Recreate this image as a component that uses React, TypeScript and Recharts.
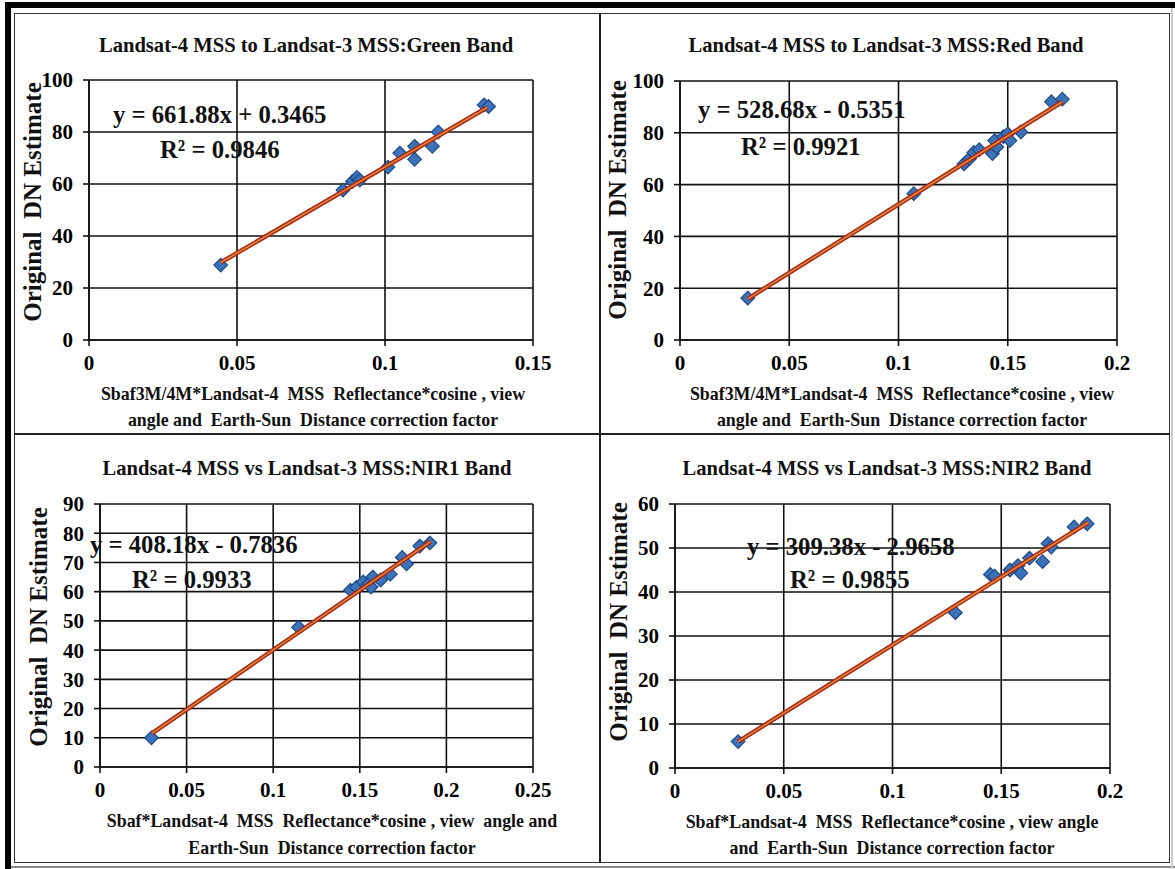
import { ScatterChart, Scatter, XAxis, YAxis, CartesianGrid } from "recharts";

// Landsat-4 MSS vs Landsat-3 MSS cross-calibration
const greenBand = [
  { x: 0.0445, y: 28.8 }, { x: 0.0858, y: 57.7 }, { x: 0.089, y: 61 }, { x: 0.0905, y: 62.5 },
  { x: 0.0915, y: 61.5 }, { x: 0.101, y: 66.5 }, { x: 0.105, y: 71.9 }, { x: 0.11, y: 74.5 },
  { x: 0.11, y: 69.5 }, { x: 0.116, y: 74.5 }, { x: 0.118, y: 80 }, { x: 0.1335, y: 90.4 },
  { x: 0.135, y: 89.8 },
];
const redBand = [
  { x: 0.031, y: 16.2 }, { x: 0.107, y: 56.5 }, { x: 0.13, y: 68 }, { x: 0.1325, y: 70 },
  { x: 0.1345, y: 72.4 }, { x: 0.137, y: 73.5 }, { x: 0.143, y: 72 }, { x: 0.144, y: 77 },
  { x: 0.145, y: 74.5 }, { x: 0.148, y: 78.5 }, { x: 0.15, y: 79.6 }, { x: 0.151, y: 77 },
  { x: 0.156, y: 80.3 }, { x: 0.17, y: 92 }, { x: 0.175, y: 93 },
];
const nir1Band = [
  { x: 0.0297, y: 10 }, { x: 0.1146, y: 47.8 }, { x: 0.1446, y: 60.5 }, { x: 0.148, y: 61.5 },
  { x: 0.152, y: 63.3 }, { x: 0.155, y: 62.5 }, { x: 0.1575, y: 65 }, { x: 0.1565, y: 61.6 },
  { x: 0.162, y: 64 }, { x: 0.1676, y: 66 }, { x: 0.1745, y: 71.7 }, { x: 0.177, y: 69.5 },
  { x: 0.1846, y: 75.6 }, { x: 0.1905, y: 76.7 },
];
const nir2Band = [
  { x: 0.029, y: 6 }, { x: 0.1289, y: 35.3 }, { x: 0.145, y: 44 }, { x: 0.147, y: 43.6 },
  { x: 0.154, y: 45 }, { x: 0.1577, y: 46 }, { x: 0.159, y: 44.3 }, { x: 0.163, y: 47.7 },
  { x: 0.169, y: 46.9 }, { x: 0.1715, y: 51 }, { x: 0.173, y: 50.2 }, { x: 0.1835, y: 54.8 },
  { x: 0.1895, y: 55.5 },
];

// linear trendline end points
const greenTrend = [{ x: 0.0445, y: 29.8 }, { x: 0.1345, y: 89.4 }];
const redTrend = [{ x: 0.031, y: 15.9 }, { x: 0.175, y: 92 }];
const nir1Trend = [{ x: 0.03, y: 11.5 }, { x: 0.191, y: 77.2 }];
const nir2Trend = [{ x: 0.029, y: 6 }, { x: 0.19, y: 55.8 }];

const xTicks150 = [0, 0.05, 0.1, 0.15];
const xTicks200 = [0, 0.05, 0.1, 0.15, 0.2];
const xTicks250 = [0, 0.05, 0.1, 0.15, 0.2, 0.25];
const yTicks100 = [0, 20, 40, 60, 80, 100];
const yTicks90 = [0, 10, 20, 30, 40, 50, 60, 70, 80, 90];
const yTicks60 = [0, 10, 20, 30, 40, 50, 60];

const titles = [
  "Landsat-4 MSS to Landsat-3 MSS:Green Band",
  "Landsat-4 MSS to Landsat-3 MSS:Red Band",
  "Landsat-4 MSS vs Landsat-3 MSS:NIR1 Band",
  "Landsat-4 MSS vs Landsat-3 MSS:NIR2 Band",
];
const equations = [
  ["y = 661.88x + 0.3465", "R² = 0.9846"],
  ["y = 528.68x - 0.5351", "R² = 0.9921"],
  ["y = 408.18x - 0.7836", "R² = 0.9933"],
  ["y = 309.38x - 2.9658", "R² = 0.9855"],
];
const xTitles = [
  ["Sbaf3M/4M*Landsat-4  MSS  Reflectance*cosine , view", "angle and  Earth-Sun  Distance correction factor"],
  ["Sbaf3M/4M*Landsat-4  MSS  Reflectance*cosine , view", "angle and  Earth-Sun  Distance correction factor"],
  ["Sbaf*Landsat-4  MSS  Reflectance*cosine , view  angle and", "Earth-Sun  Distance correction factor"],
  ["Sbaf*Landsat-4  MSS  Reflectance*cosine , view angle", "and  Earth-Sun  Distance correction factor"],
];
const yTitle = "Original  DN Estimate";

const serif = "'Liberation Serif', 'Times New Roman', serif";

const Diamond = (props: any) => {
  const { cx, cy } = props;
  const r = 6.8;
  return (
    <polygon
      points={`${cx},${cy - r} ${cx + r},${cy} ${cx},${cy + r} ${cx - r},${cy}`}
      fill="#3b73bb"
      stroke="#1d4a86"
      strokeWidth={1.2}
    />
  );
};
const NoDot = () => <g />;

type PanelProps = {
  left: number; top: number; width: number; height: number;
  plot: { l: number; r: number; t: number; b: number };
  points: { x: number; y: number }[];
  trend: { x: number; y: number }[];
  xTicks: number[]; yTicks: number[];
  title: string; titlePos: [number, number];
  eq: string[]; eqPos: [number, number, number, number];
  xTitle: string[]; xTitlePos: [number, number, number];
  yTitlePos: [number, number];
};

const Panel = (p: PanelProps) => {
  const yAxisW = 50;
  const xAxisH = 30;
  const margin = {
    top: p.plot.t,
    right: p.width - p.plot.r,
    left: p.plot.l - yAxisW,
    bottom: p.height - p.plot.b - xAxisH,
  };
  const tickStyle = { fill: "#000", fontFamily: serif, fontWeight: 700, fontSize: 21 };
  const txt: React.CSSProperties = {
    position: "absolute", fontFamily: serif, fontWeight: 700, color: "#111", whiteSpace: "pre", lineHeight: 1,
  };
  return (
    <div style={{ position: "absolute", left: p.left, top: p.top, width: p.width, height: p.height }}>
      <ScatterChart width={p.width} height={p.height} margin={margin}>
        <CartesianGrid stroke="#111" strokeWidth={1.6} fill="none" />
        <XAxis
          type="number" dataKey="x" domain={[p.xTicks[0], p.xTicks[p.xTicks.length - 1]]}
          ticks={p.xTicks} interval={0} height={xAxisH} tick={tickStyle} tickSize={6} tickMargin={9}
          axisLine={{ stroke: "#111", strokeWidth: 1.6 }} tickLine={{ stroke: "#111", strokeWidth: 1.6 }}
        />
        <YAxis
          type="number" dataKey="y" domain={[p.yTicks[0], p.yTicks[p.yTicks.length - 1]]}
          ticks={p.yTicks} interval={0} width={yAxisW} tick={tickStyle} tickSize={6} tickMargin={10}
          axisLine={{ stroke: "#111", strokeWidth: 1.6 }} tickLine={{ stroke: "#111", strokeWidth: 1.6 }}
        />
        <Scatter data={p.points} shape={Diamond} isAnimationActive={false} />
        <Scatter data={p.trend} shape={NoDot} line={{ stroke: "#a3281c", strokeWidth: 4.5 }} isAnimationActive={false} />
        <Scatter data={p.trend} shape={NoDot} line={{ stroke: "#e8832e", strokeWidth: 1.6 }} isAnimationActive={false} />
      </ScatterChart>
      <div style={{ ...txt, fontSize: 21, left: p.titlePos[0], top: p.titlePos[1], transform: "translate(-50%,-50%) scaleX(0.98)" }}>
        {p.title}
      </div>
      <div style={{ ...txt, fontSize: 26, left: p.eqPos[0], top: p.eqPos[1], transform: "translateY(-50%) scaleX(0.95)", transformOrigin: "left center" }}>
        {p.eq[0]}
      </div>
      <div style={{ ...txt, fontSize: 26, left: p.eqPos[2], top: p.eqPos[3], transform: "translateY(-50%) scaleX(0.95)", transformOrigin: "left center" }}>
        {p.eq[1]}
      </div>
      <div style={{ ...txt, fontSize: 19, left: p.xTitlePos[0], top: p.xTitlePos[1], transform: "translate(-50%,-50%) scaleX(0.94)" }}>
        {p.xTitle[0]}
      </div>
      <div style={{ ...txt, fontSize: 19, left: p.xTitlePos[0], top: p.xTitlePos[2], transform: "translate(-50%,-50%) scaleX(0.94)" }}>
        {p.xTitle[1]}
      </div>
      <div style={{ ...txt, fontSize: 25, left: p.yTitlePos[0], top: p.yTitlePos[1], transform: "translate(-50%,-50%) rotate(-90deg)" }}>
        {yTitle}
      </div>
    </div>
  );
};

export default function App() {
  const line = (s: React.CSSProperties) => <div style={{ position: "absolute", ...s }} />;
  return (
    <div style={{ position: "absolute", left: 0, top: 0, width: 1175, height: 869, background: "#fff", overflow: "hidden" }}>
      {line({ left: 5, top: 2, width: 1170, height: 6, background: "#000" })}
      {line({ left: 5, top: 2, width: 6, height: 867, background: "#000" })}
      {line({ left: 14, top: 13, width: 1156, height: 850, border: "1.5px solid #333", boxSizing: "border-box" })}
      {line({ left: 11, top: 866, width: 1164, height: 1.5, background: "#888" })}
      {line({ left: 1171, top: 8, width: 1.5, height: 861, background: "#ccc" })}
      {line({ left: 599, top: 13, width: 2, height: 850, background: "#222" })}
      {line({ left: 14, top: 433, width: 1156, height: 2, background: "#222" })}

      <Panel
        left={14} top={13} width={586} height={421}
        plot={{ l: 75, r: 519, t: 67, b: 327 }}
        points={greenBand} trend={greenTrend} xTicks={xTicks150} yTicks={yTicks100}
        title={titles[0]} titlePos={[292, 32]}
        eq={equations[0]} eqPos={[99, 102, 146, 137]}
        xTitle={xTitles[0]} xTitlePos={[299, 380, 406]}
        yTitlePos={[18, 189]}
      />
      <Panel
        left={600} top={13} width={570} height={421}
        plot={{ l: 80, r: 517, t: 68, b: 327 }}
        points={redBand} trend={redTrend} xTicks={xTicks200} yTicks={yTicks100}
        title={titles[1]} titlePos={[286, 32]}
        eq={equations[1]} eqPos={[98, 97, 141, 134]}
        xTitle={xTitles[1]} xTitlePos={[302, 380, 406]}
        yTitlePos={[17, 187]}
      />
      <Panel
        left={14} top={434} width={586} height={429}
        plot={{ l: 86, r: 519, t: 70, b: 333 }}
        points={nir1Band} trend={nir1Trend} xTicks={xTicks250} yTicks={yTicks90}
        title={titles[2]} titlePos={[293, 34]}
        eq={equations[2]} eqPos={[76, 111, 118, 146]}
        xTitle={xTitles[2]} xTitlePos={[318, 386, 413]}
        yTitlePos={[24, 193]}
      />
      <Panel
        left={600} top={434} width={570} height={429}
        plot={{ l: 75, r: 510, t: 70, b: 334 }}
        points={nir2Band} trend={nir2Trend} xTicks={xTicks200} yTicks={yTicks60}
        title={titles[3]} titlePos={[287, 34]}
        eq={equations[3]} eqPos={[147, 113, 190, 146]}
        xTitle={xTitles[3]} xTitlePos={[292, 387, 413]}
        yTitlePos={[18, 188]}
      />
    </div>
  );
}
